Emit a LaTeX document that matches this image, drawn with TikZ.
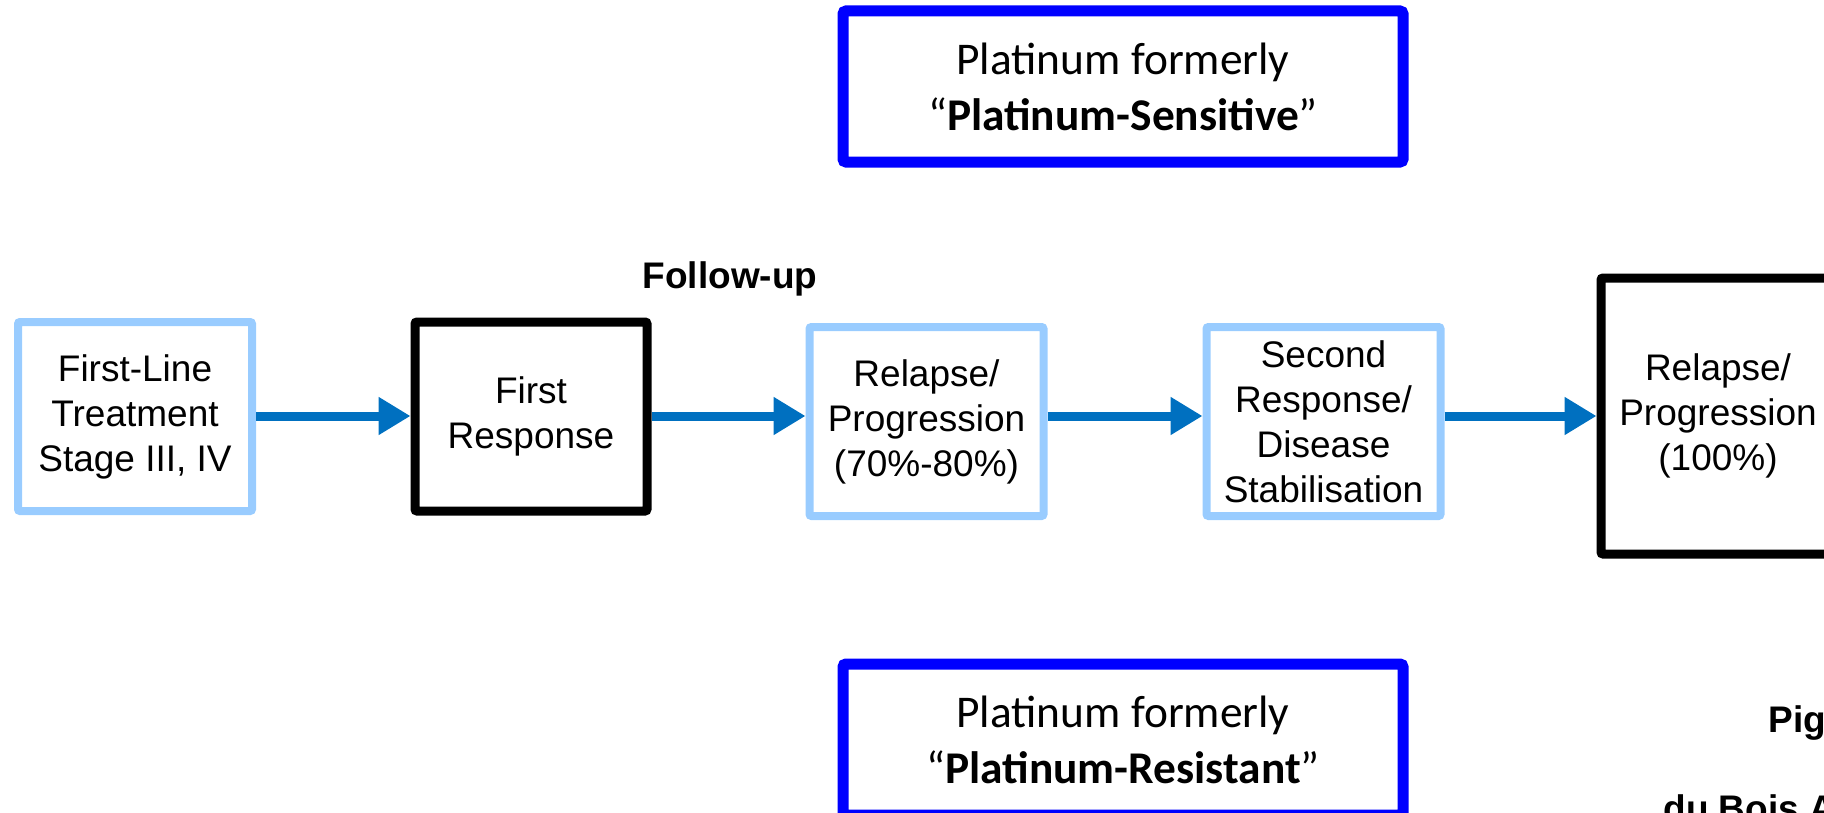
\documentclass[tikz,border=0pt]{standalone}
\usepackage{fontspec}
\setmainfont{Liberation Sans}
\newfontfamily\calfont{Carlito}
\usetikzlibrary{arrows.meta}
\definecolor{lblue}{RGB}{153,204,255}
\definecolor{arrblue}{RGB}{0,112,192}
\definecolor{pblue}{RGB}{0,0,255}
\tikzset{
  boxtext/.style={align=center, font=\fontsize{18.5}{22.5}\selectfont, inner sep=0pt},
  lbox/.style={boxtext, draw=lblue, line width=4pt, rounded corners=1pt, minimum width=117pt, minimum height=94.5pt},
  kbox/.style={boxtext, draw=black, line width=4.5pt, rounded corners=1pt, minimum width=116pt, minimum height=94.5pt},
  pbox/.style={align=center, font=\calfont\fontsize{22.7}{28}\selectfont, draw=pblue, line width=5.5pt, rounded corners=1.5pt, minimum width=280pt, minimum height=75.5pt, inner sep=0pt},
  arr/.style={draw=arrblue, line width=4.5pt, -{Triangle[length=16pt,width=18pt]}},
  lbl/.style={font=\bfseries\fontsize{18.5}{22.5}\selectfont, inner sep=0pt}
}
\begin{document}
\begin{tikzpicture}[x=0.5pt,y=-0.5pt]
\useasboundingbox (0,0) rectangle (1824,813);
\node[lbox] (b1) at (135,416.5) {First-Line\\Treatment\\Stage III, IV};
\node[kbox] (b2) at (531,416.5) {First\\Response};
\node[lbox] (b3) at (926.5,421.5) {Relapse/\\Progression\\(70\%-80\%)};
\node[lbox] (b4) at (1323.5,421.5) {Second\\Response/\\Disease\\Stabilisation};
\node[kbox, minimum height=138pt, minimum width=117pt] (b5) at (1718,416) {Relapse/\\Progression\\(100\%)};
\node[pbox] (top) at (1123,86.5) {Platinum formerly\\“\textbf{Platinum-Sensitive}”};
\node[pbox] (bot) at (1123,739.5) {Platinum formerly\\“\textbf{Platinum-Resistant}”};
\node[lbl] (fu) at (730,279) {Follow-up};
\node[lbl, anchor=base west] (pig) at (1768,732) {Pig};
\node[lbl, anchor=base west] (dub) at (1663,821) {du Bois A};
\coordinate (y0) at (0,416);
\draw[arr] (b1.east |- y0) -- (b2.west |- y0);
\draw[arr] (b2.east |- y0) -- (b3.west |- y0);
\draw[arr] (b3.east |- y0) -- (b4.west |- y0);
\draw[arr] (b4.east |- y0) -- (b5.west |- y0);
\end{tikzpicture}
\end{document}
